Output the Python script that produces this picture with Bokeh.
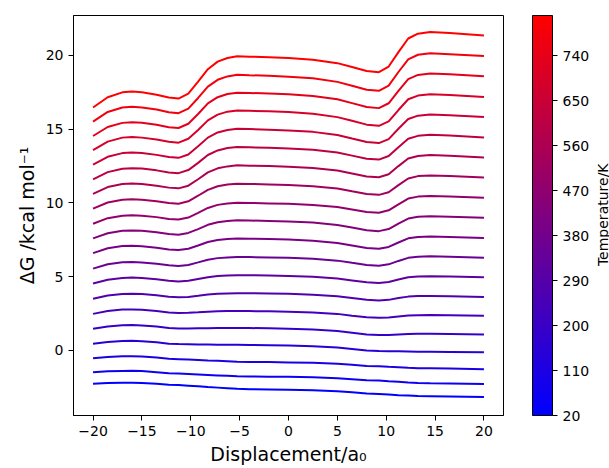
import math
from bokeh.plotting import figure
from bokeh.layouts import row
from bokeh.models import (Range1d, FixedTicker, ColorBar, LinearColorMapper,
                          CustomJSTickFormatter, ColumnDataSource)
from bokeh.core.properties import value
from bokeh.embed import file_html
from bokeh.resources import INLINE

# Displacement sample positions (a0)
x_disp = [-20, -18.5, -17, -16, -15, -13.5, -12.25, -11.25, -10.25, -9.25,
          -8.25, -7.25, -6.25, -5.25, -4, -2, 0, 2.5, 5, 6.5,
          8, 9.25, 10.25, 11.25, 12.25, 13.25, 14.5, 16.5, 20]

# Temperatures (K) of the curves, bottom to top
temps = [20, 62, 104, 146, 188, 231, 273, 315, 357, 399,
         441, 483, 525, 567, 609, 651, 694, 736, 778, 820]

# Free-energy profiles (kcal/mol), one list per temperature
g_020 = [-2.26, -2.22, -2.20, -2.20, -2.22, -2.27, -2.34, -2.36, -2.40, -2.44,
         -2.49, -2.53, -2.57, -2.61, -2.64, -2.65, -2.67, -2.70, -2.77, -2.85,
         -2.93, -2.96, -3.00, -3.04, -3.07, -3.10, -3.11, -3.13, -3.16]
g_062 = [-1.49, -1.42, -1.40, -1.39, -1.41, -1.48, -1.55, -1.58, -1.61, -1.64,
         -1.67, -1.70, -1.73, -1.76, -1.78, -1.79, -1.80, -1.83, -1.89, -1.96,
         -2.03, -2.05, -2.10, -2.14, -2.19, -2.21, -2.23, -2.25, -2.28]
g_104 = [-0.54, -0.45, -0.41, -0.40, -0.42, -0.49, -0.57, -0.60, -0.63, -0.66,
         -0.69, -0.71, -0.74, -0.77, -0.79, -0.80, -0.82, -0.85, -0.91, -0.98,
         -1.06, -1.08, -1.12, -1.15, -1.19, -1.21, -1.22, -1.24, -1.28]
g_146 = [0.45, 0.57, 0.63, 0.64, 0.62, 0.54, 0.45, 0.42, 0.41, 0.40,
         0.39, 0.38, 0.37, 0.37, 0.36, 0.34, 0.32, 0.28, 0.19, 0.09,
         -0.02, -0.05, -0.06, -0.07, -0.08, -0.09, -0.09, -0.11, -0.14]
g_188 = [1.46, 1.62, 1.70, 1.71, 1.69, 1.61, 1.51, 1.48, 1.48, 1.49,
         1.50, 1.51, 1.51, 1.51, 1.51, 1.49, 1.47, 1.41, 1.31, 1.19,
         1.07, 1.03, 1.04, 1.08, 1.11, 1.12, 1.12, 1.11, 1.08]
g_231 = [2.47, 2.66, 2.76, 2.77, 2.75, 2.66, 2.57, 2.53, 2.55, 2.58,
         2.62, 2.64, 2.66, 2.66, 2.66, 2.64, 2.62, 2.57, 2.47, 2.35,
         2.24, 2.20, 2.23, 2.30, 2.36, 2.38, 2.39, 2.37, 2.34]
g_273 = [3.49, 3.72, 3.82, 3.84, 3.82, 3.73, 3.63, 3.59, 3.62, 3.70,
         3.79, 3.84, 3.86, 3.87, 3.87, 3.85, 3.83, 3.77, 3.66, 3.54,
         3.42, 3.38, 3.42, 3.54, 3.64, 3.68, 3.69, 3.67, 3.62]
g_315 = [4.53, 4.79, 4.91, 4.93, 4.90, 4.81, 4.71, 4.67, 4.72, 4.84,
         4.96, 5.04, 5.08, 5.09, 5.09, 5.07, 5.04, 4.99, 4.87, 4.74,
         4.61, 4.57, 4.63, 4.80, 4.95, 5.00, 5.02, 5.00, 4.95]
g_357 = [5.54, 5.83, 5.97, 5.99, 5.96, 5.87, 5.76, 5.72, 5.79, 5.96,
         6.14, 6.25, 6.30, 6.33, 6.32, 6.30, 6.27, 6.20, 6.08, 5.93,
         5.79, 5.74, 5.83, 6.06, 6.27, 6.34, 6.37, 6.34, 6.28]
g_399 = [6.59, 6.92, 7.07, 7.09, 7.06, 6.96, 6.84, 6.80, 6.89, 7.11,
         7.34, 7.48, 7.55, 7.58, 7.57, 7.54, 7.51, 7.43, 7.28, 7.11,
         6.94, 6.89, 7.01, 7.31, 7.59, 7.69, 7.72, 7.69, 7.61]
g_441 = [7.59, 7.94, 8.10, 8.13, 8.10, 8.00, 7.88, 7.84, 7.96, 8.22,
         8.51, 8.68, 8.77, 8.81, 8.80, 8.77, 8.74, 8.66, 8.50, 8.32,
         8.14, 8.08, 8.22, 8.59, 8.93, 9.05, 9.09, 9.06, 8.99]
g_483 = [8.58, 8.96, 9.13, 9.16, 9.13, 9.03, 8.91, 8.87, 9.00, 9.32,
         9.65, 9.86, 9.96, 10.00, 9.99, 9.96, 9.93, 9.86, 9.71, 9.55,
         9.38, 9.33, 9.49, 9.90, 10.29, 10.42, 10.47, 10.43, 10.34]
g_525 = [9.61, 10.02, 10.21, 10.24, 10.21, 10.11, 9.99, 9.94, 10.10, 10.48,
         10.88, 11.12, 11.24, 11.29, 11.28, 11.25, 11.21, 11.13, 10.97, 10.78,
         10.60, 10.54, 10.72, 11.20, 11.65, 11.81, 11.86, 11.82, 11.71]
g_567 = [10.61, 11.07, 11.28, 11.31, 11.28, 11.16, 11.03, 10.98, 11.16, 11.60,
         12.06, 12.34, 12.47, 12.54, 12.52, 12.49, 12.45, 12.36, 12.19, 11.99,
         11.79, 11.73, 11.94, 12.49, 13.00, 13.18, 13.24, 13.19, 13.08]
g_609 = [11.59, 12.08, 12.31, 12.35, 12.32, 12.20, 12.06, 12.01, 12.22, 12.71,
         13.24, 13.55, 13.71, 13.78, 13.76, 13.73, 13.69, 13.59, 13.41, 13.20,
         12.99, 12.93, 13.17, 13.77, 14.34, 14.54, 14.61, 14.56, 14.43]
g_651 = [12.59, 13.12, 13.37, 13.41, 13.37, 13.25, 13.10, 13.05, 13.28, 13.83,
         14.42, 14.77, 14.94, 15.02, 15.00, 14.96, 14.91, 14.81, 14.60, 14.36,
         14.13, 14.05, 14.32, 15.02, 15.68, 15.91, 15.99, 15.94, 15.81]
g_694 = [13.58, 14.15, 14.42, 14.46, 14.42, 14.29, 14.14, 14.08, 14.34, 14.94,
         15.59, 15.98, 16.18, 16.26, 16.24, 16.20, 16.15, 16.04, 15.81, 15.56,
         15.30, 15.22, 15.52, 16.29, 17.02, 17.27, 17.36, 17.31, 17.18]
g_736 = [14.53, 15.14, 15.42, 15.47, 15.43, 15.29, 15.13, 15.07, 15.36, 16.02,
         16.74, 17.16, 17.38, 17.47, 17.45, 17.41, 17.36, 17.24, 17.02, 16.76,
         16.50, 16.42, 16.75, 17.59, 18.39, 18.67, 18.76, 18.71, 18.58]
g_778 = [15.51, 16.16, 16.46, 16.51, 16.47, 16.32, 16.14, 16.08, 16.39, 17.11,
         17.88, 18.34, 18.57, 18.68, 18.65, 18.61, 18.55, 18.44, 18.20, 17.94,
         17.67, 17.59, 17.95, 18.87, 19.73, 20.04, 20.14, 20.08, 19.95]
g_820 = [16.46, 17.16, 17.49, 17.54, 17.49, 17.33, 17.14, 17.07, 17.41, 18.21,
         19.06, 19.57, 19.82, 19.94, 19.91, 19.87, 19.82, 19.70, 19.47, 19.21,
         18.94, 18.86, 19.24, 20.22, 21.14, 21.47, 21.58, 21.51, 21.35]

curves = [g_020, g_062, g_104, g_146, g_188, g_231, g_273, g_315, g_357, g_399,
          g_441, g_483, g_525, g_567, g_609, g_651, g_694, g_736, g_778, g_820]

x_ticks = [-20, -15, -10, -5, 0, 5, 10, 15, 20]
y_ticks = [0, 5, 10, 15, 20]
cbar_ticks = [20, 110, 200, 290, 380, 470, 560, 650, 740]
cbar_caption = "Temperature/K"

FONT = "DejaVu Sans"
Y_LO, Y_HI = -4.42, 22.70

# blue -> red colormap
palette = ["#%02x00%02x" % (i, 255 - i) for i in range(256)]
mapper = LinearColorMapper(palette=palette, low=20, high=820)

src = ColumnDataSource(dict(xs=[x_disp] * len(curves), ys=curves, T=temps))

p = figure(width=593, height=468, output_backend="svg", toolbar_location=None,
           x_range=Range1d(-22, 22), y_range=Range1d(Y_LO, Y_HI),
           min_border_left=73, min_border_right=90, min_border_top=15,
           min_border_bottom=53)
p.background_fill_color = "white"
p.border_fill_color = "white"
p.outline_line_color = "black"
p.outline_line_width = 1
p.outline_line_alpha = 1
p.xgrid.visible = False
p.ygrid.visible = False

p.multi_line("xs", "ys", source=src,
             line_color={"field": "T", "transform": mapper}, line_width=2)

fmt = CustomJSTickFormatter(code="return (tick < 0 ? '\\u2212' : '') + Math.abs(tick).toString();")

for ax in (p.xaxis[0], p.yaxis[0]):
    ax.axis_line_color = "black"
    ax.major_tick_line_color = "black"
    ax.major_tick_out = 5
    ax.major_tick_in = 0
    ax.minor_tick_line_color = None
    ax.major_label_text_font = FONT
    ax.major_label_text_font_size = "14px"
    ax.major_label_text_color = "black"
    ax.axis_label_text_font = FONT
    ax.axis_label_text_font_size = "19px"
    ax.axis_label_text_font_style = "normal"
    ax.axis_label_text_color = "black"
    ax.major_label_standoff = 5
    ax.formatter = fmt

p.xaxis.ticker = FixedTicker(ticks=x_ticks)
p.yaxis.ticker = FixedTicker(ticks=y_ticks)
p.xaxis.axis_label = "Displacement/a\u2080"
p.yaxis.axis_label = "\u0394G /kcal mol\u207b\u00b9"
p.xaxis.axis_label_standoff = 4
p.yaxis.axis_label_standoff = 5

cb = ColorBar(color_mapper=mapper, width=20, height=400, padding=0, margin=0,
              location=(459, 0),
              ticker=FixedTicker(ticks=cbar_ticks),
              major_tick_out=5, major_tick_in=0, major_tick_line_color="black",
              minor_tick_line_color=None,
              bar_line_color="black", bar_line_width=1,
              major_label_text_font=FONT, major_label_text_font_size="14px",
              major_label_text_color="black", label_standoff=5,
              background_fill_color=None, border_line_color=None)
p.add_layout(cb)

# narrow strip on the right holding the colour-bar caption (reads upward)
cap = figure(width=16, height=468, output_backend="svg", toolbar_location=None,
             x_range=Range1d(-1, 1), y_range=Range1d(Y_LO, Y_HI),
             x_axis_type=None, y_axis_type=None,
             min_border_left=0, min_border_right=0, min_border_top=15,
             min_border_bottom=53)
cap.outline_line_color = None
cap.background_fill_color = "white"
cap.border_fill_color = "white"
cap.text(x=[0.125], y=[(Y_LO + Y_HI) / 2 + 0.05], text=[cbar_caption],
         angle=math.pi / 2, text_align="center", text_baseline="middle",
         text_font=value(FONT), text_font_size=value("14px"),
         text_color="black")

layout = row(p, cap, spacing=0)

open("out.html", "w").write(file_html(layout, INLINE))
